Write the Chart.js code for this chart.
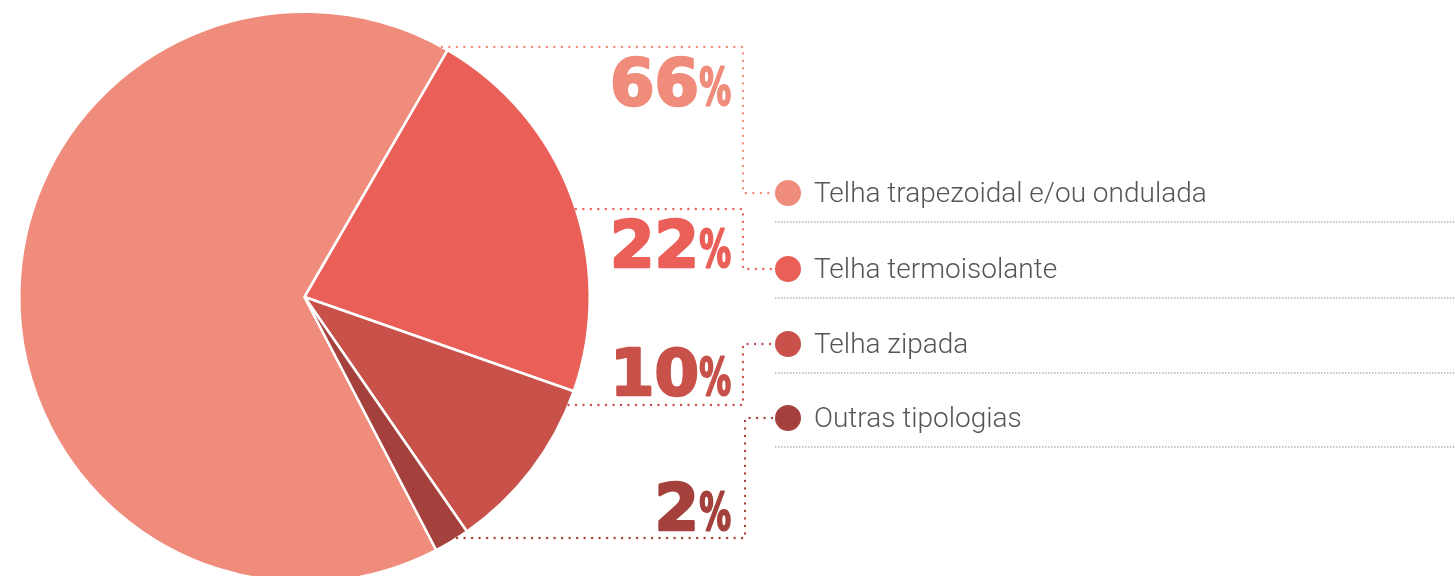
<!DOCTYPE html>
<html>
<head>
<meta charset="utf-8">
<script src="https://cdn.jsdelivr.net/npm/chart.js@4/dist/chart.umd.min.js"></script>
<style>
  html, body { margin: 0; padding: 0; background: #fff; overflow: hidden; }
  canvas { display: block; }
</style>
</head>
<body>
<canvas id="pie" width="1455" height="600"></canvas>
<script>
const labels = ['Telha trapezoidal e/ou ondulada', 'Telha termoisolante', 'Telha zipada', 'Outras tipologias'];
const values = [66, 22, 10, 2];
const colors = ['#f08c7b', '#ea5f58', '#c8514a', '#a5413c'];

// where each leader leaves the pie and where each legend row sits
const leaderY = [47, 209, 405, 538];
const rowY = [193, 269, 344, 418];
const turnX = [743, 743, 743, 745];
const pctBase = [105, 267, 395, 530];

function dotted(ctx, pts, color) {
  ctx.save();
  ctx.strokeStyle = color;
  ctx.lineWidth = 2.4;
  ctx.lineCap = 'round';
  ctx.setLineDash([0, 7.5]);
  ctx.beginPath();
  ctx.moveTo(pts[0][0], pts[0][1]);
  for (let i = 1; i < pts.length; i++) ctx.lineTo(pts[i][0], pts[i][1]);
  ctx.stroke();
  ctx.restore();
}

const callouts = {
  id: 'callouts',
  afterDraw(chart) {
    const ctx = chart.ctx;
    const arc = chart.getDatasetMeta(0).data[0];
    const cx = arc.x, cy = arc.y, r = arc.outerRadius;
    const dotX = 788;

    values.forEach((v, i) => {
      const dy = leaderY[i] - cy;
      const sx = cx + Math.sqrt(Math.max(r * r - dy * dy, 0));
      dotted(ctx, [[sx, leaderY[i]], [turnX[i], leaderY[i]], [turnX[i], rowY[i]], [dotX - 14, rowY[i]]], colors[i]);

      // percentage
      const base = pctBase[i];
      ctx.save();
      ctx.fillStyle = colors[i];
      ctx.strokeStyle = colors[i];
      ctx.lineJoin = 'round';
      ctx.textBaseline = 'alphabetic';
      ctx.textAlign = 'left';
      ctx.font = 'bold 52px "DejaVu Sans Condensed", "DejaVu Sans"';
      const sx2 = 0.68;
      const pw = ctx.measureText('%').width * sx2;
      ctx.save();
      ctx.translate(731 - pw, base);
      ctx.scale(sx2, 1);
      ctx.lineWidth = 2;
      ctx.fillText('%', 0, 0);
      ctx.strokeText('%', 0, 0);
      ctx.restore();
      ctx.textAlign = 'right';
      ctx.font = 'bold 64px "DejaVu Sans"';
      ctx.lineWidth = 2.5;
      ctx.fillText(String(v), 731 - pw, base);
      ctx.strokeText(String(v), 731 - pw, base);
      ctx.restore();

      // legend row
      ctx.save();
      ctx.fillStyle = colors[i];
      ctx.beginPath();
      ctx.arc(dotX, rowY[i], 13, 0, Math.PI * 2);
      ctx.fill();
      ctx.fillStyle = '#555';
      ctx.font = '300 28px Roboto';
      ctx.textBaseline = 'middle';
      ctx.textAlign = 'left';
      ctx.fillText(labels[i], 814, rowY[i] + 2);
      ctx.strokeStyle = '#b5b5b5';
      ctx.lineWidth = 1.5;
      ctx.setLineDash([1.5, 1.5]);
      ctx.beginPath();
      ctx.moveTo(775, rowY[i] + 29);
      ctx.lineTo(1455, rowY[i] + 29);
      ctx.stroke();
      ctx.restore();
    });
  }
};

new Chart(document.getElementById('pie'), {
  type: 'pie',
  data: {
    labels: labels,
    datasets: [{
      data: values,
      backgroundColor: colors,
      borderColor: '#fff',
      borderWidth: 2.5,
      hoverOffset: 0
    }]
  },
  options: {
    responsive: false,
    animation: false,
    rotation: 152.5,
    layout: { padding: { left: 18, top: 10, right: 864, bottom: 16 } },
    plugins: {
      legend: { display: false },
      tooltip: { enabled: false }
    }
  },
  plugins: [callouts]
});
</script>
</body>
</html>
